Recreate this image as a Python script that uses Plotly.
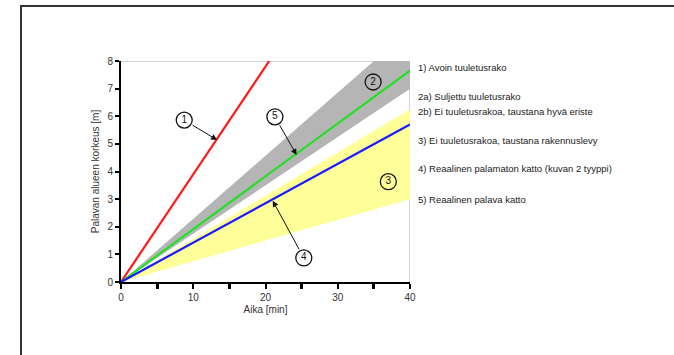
import plotly.graph_objects as go

# ---- data ----
x_end = [0, 40]
line1_y = [0, 15.6]      # 1) red, reaches 8 m at ~20.5 min
line5_y = [0, 7.65]      # 5) green
line4_y = [0, 5.7]       # 4) blue
band2_upper = [0, 9.14]  # 2) grey band upper edge
band2_lower = [0, 7.0]   # 2) grey band lower edge
band3_upper = [0, 6.25]  # 3) yellow band upper edge
band3_lower = [0, 3.0]   # 3) yellow band lower edge

label_text = ["1", "2", "3", "4", "5"]
label_x = [8.75, 34.9, 37.0, 25.3, 21.3]
label_y = [5.86, 7.24, 3.63, 0.87, 5.98]
arrow_tip_x = [13.3, None, None, 21.0, 24.3]
arrow_tip_y = [5.14, None, None, 2.94, 4.6]

legend_lines = [
    "1) Avoin tuuletusrako",
    "2a) Suljettu tuuletusrako",
    "2b) Ei tuuletusrakoa, taustana hyvä eriste",
    "3) Ei tuuletusrakoa, taustana rakennuslevy",
    "4) Reaalinen palamaton katto (kuvan 2 tyyppi)",
    "5) Reaalinen palava katto",
]
legend_y = [7.78, 6.70, 6.16, 5.11, 4.12, 2.97]

x_title = "Aika [min]"
y_title = "Palavan alueen korkeus [m]"

FONT = "Liberation Sans Narrow, Arial Narrow, Liberation Sans, Arial"

fig = go.Figure()

# grey band 2
fig.add_trace(go.Scatter(
    x=x_end + x_end[::-1], y=band2_upper + band2_lower[::-1],
    fill="toself", fillcolor="#b5b5b5", line=dict(width=0),
    mode="lines", hoverinfo="skip", showlegend=False))
# yellow band 3
fig.add_trace(go.Scatter(
    x=x_end + x_end[::-1], y=band3_upper + band3_lower[::-1],
    fill="toself", fillcolor="#ffff99", line=dict(width=0),
    mode="lines", hoverinfo="skip", showlegend=False))

for ys, col in [(line1_y, "#ff1a1a"), (line5_y, "#22e022"), (line4_y, "#1a1aff")]:
    fig.add_trace(go.Scatter(x=x_end, y=ys, mode="lines",
                             line=dict(color=col, width=2.2),
                             hoverinfo="skip", showlegend=False))

# arrows
for tx, ty, lx, ly in zip(arrow_tip_x, arrow_tip_y, label_x, label_y):
    if tx is None:
        continue
    fig.add_annotation(x=tx, y=ty, ax=lx, ay=ly, xref="x", yref="y",
                       axref="x", ayref="y", text="", showarrow=True,
                       arrowhead=2, arrowsize=1.2, arrowwidth=1,
                       arrowcolor="#111111", startstandoff=8)

# circled labels
filled = [True, False, False, True, True]
for t, lx, ly, f in zip(label_text, label_x, label_y, filled):
    fig.add_trace(go.Scatter(
        x=[lx], y=[ly], mode="markers+text", text=[t],
        textposition="middle center",
        textfont=dict(family=FONT, size=10, color="#111111"),
        marker=dict(symbol="circle" if f else "circle-open", size=16,
                    color="white" if f else "#111111",
                    line=dict(color="#111111", width=1.3)),
        hoverinfo="skip", showlegend=False, cliponaxis=False))

# legend text on the right
for txt, yy in zip(legend_lines, legend_y):
    fig.add_annotation(x=1.02, y=yy, xref="paper", yref="y", text=txt,
                       showarrow=False, xanchor="left", yanchor="middle",
                       font=dict(family=FONT, size=9.5, color="#222222"))

# grey top/right border of plot
fig.add_shape(type="line", xref="x", yref="y", x0=0, x1=40, y0=8, y1=8,
              line=dict(color="#aaaaaa", width=1), layer="below")
fig.add_shape(type="line", xref="x", yref="y", x0=40, x1=40, y0=0, y1=8,
              line=dict(color="#aaaaaa", width=1), layer="below")

# outer frame
fig.add_shape(type="rect", xref="paper", yref="paper",
              x0=-0.346, x1=2.0, y0=-1.0, y1=1.249,
              line=dict(color="#333333", width=2), layer="below")

fig.update_xaxes(range=[0, 40], dtick=10, tick0=0, ticks="outside",
                 ticklen=5, tickwidth=1.5, tickcolor="black",
                 minor=dict(dtick=5, ticks="outside", ticklen=5,
                            tickwidth=2.5, tickcolor="black"),
                 showline=True, linecolor="black", linewidth=2,
                 showgrid=False, zeroline=False,
                 tickfont=dict(family=FONT, size=10, color="#333333"),
                 title=dict(text=x_title, standoff=4,
                            font=dict(family=FONT, size=10, color="#333333")))
fig.update_yaxes(range=[0, 8], dtick=1, tick0=0, ticks="outside",
                 ticklen=4, tickwidth=1.5, tickcolor="black",
                 showline=True, linecolor="black", linewidth=2,
                 showgrid=False, zeroline=False,
                 tickfont=dict(family=FONT, size=10, color="#333333"),
                 title=dict(text=y_title, standoff=6,
                            font=dict(family=FONT, size=10, color="#333333")))

fig.update_layout(width=674, height=355,
                  margin=dict(l=121, r=264, t=61, b=73),
                  paper_bgcolor="white", plot_bgcolor="white",
                  showlegend=False)

fig.write_html("out.html",
               config={"displayModeBar": False},
               post_script="document.body.style.margin='0';"
                           "document.body.style.overflow='hidden';")
